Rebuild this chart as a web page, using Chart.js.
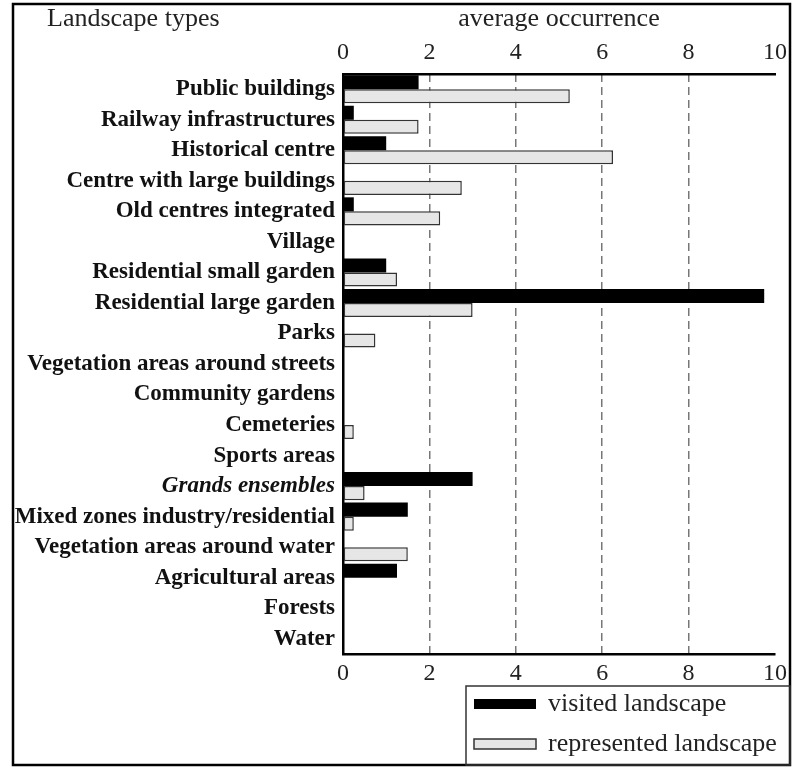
<!DOCTYPE html>
<html><head><meta charset="utf-8">
<script src="https://cdn.jsdelivr.net/npm/chart.js@4.4.1/dist/chart.umd.min.js"></script>
<style>html,body{margin:0;padding:0;background:#fff;}#wrap{width:808px;height:780px;}</style>
</head><body><div id="wrap"><canvas id="c" width="808" height="780" style="width:808px;height:780px"></canvas></div>
<script>
const categories = [
  'Public buildings','Railway infrastructures','Historical centre','Centre with large buildings',
  'Old centres integrated','Village','Residential small garden','Residential large garden','Parks',
  'Vegetation areas around streets','Community gardens','Cemeteries','Sports areas','Grands ensembles',
  'Mixed zones industry/residential','Vegetation areas around water','Agricultural areas','Forests','Water'
];
const italicCategories = ['Grands ensembles'];
const visited =     [1.75,0.25,1.0,0,0.25,0,1.0,9.75,0,0,0,0,0,3.0,1.5,0,1.25,0,0];
const represented = [5.25,1.75,6.25,2.75,2.25,0,1.25,3.0,0.75,0,0,0.25,0,0.5,0.25,1.5,0,0,0];
const seriesNames = ['visited landscape','represented landscape'];
const axisMin = 0, axisMax = 10, axisStep = 2;
const leftTitle = 'Landscape types';
const topTitle = 'average occurrence';

const SERIF = "'Liberation Serif','Times New Roman',serif";

const framePlugin = {
  id: 'frame',
  afterDraw(chart) {
    const ctx = chart.ctx;
    ctx.save();
    // outer frame
    ctx.strokeStyle = '#000';
    ctx.lineWidth = 2.5;
    ctx.strokeRect(13, 4, 777, 761);
    // left title
    ctx.fillStyle = '#222';
    ctx.font = '26px ' + SERIF;
    ctx.textAlign = 'left';
    ctx.textBaseline = 'middle';
    ctx.fillText(leftTitle, 47, 19);
    // legend
    const lx = 466, ly = 686, lw = 324, lh = 79;
    ctx.lineWidth = 1.5;
    ctx.strokeStyle = '#333';
    ctx.strokeRect(lx, ly, lw, lh);
    const ds = chart.data.datasets;
    const rows = [704, 744];
    ds.forEach((d, i) => {
      const y = rows[i];
      ctx.fillStyle = d.backgroundColor;
      ctx.fillRect(474, y - 5, 62, 10);
      if (d.borderWidth) {
        ctx.lineWidth = 1.5;
        ctx.strokeStyle = d.borderColor;
        ctx.strokeRect(474, y - 5, 62, 10);
      }
      ctx.fillStyle = '#222';
      ctx.font = '26px ' + SERIF;
      ctx.textAlign = 'left';
      ctx.textBaseline = 'middle';
      ctx.fillText(d.label, 548, y);
    });
    ctx.restore();
  }
};

new Chart(document.getElementById('c'), {
  type: 'bar',
  data: {
    labels: categories,
    datasets: [
      { label: seriesNames[0], data: visited, backgroundColor: '#000', borderWidth: 0,
        categoryPercentage: 0.92, barPercentage: 1.0, xAxisID: 'x' },
      { label: seriesNames[1], data: represented, backgroundColor: '#e6e6e6', borderColor: '#333',
        borderWidth: 1.5, borderSkipped: false, categoryPercentage: 0.92, barPercentage: 1.0, xAxisID: 'x' }
    ]
  },
  options: {
    indexAxis: 'y',
    responsive: false,
    animation: false,
    layout: { padding: { left: 0, right: 33, top: 0, bottom: 0 } },
    plugins: { legend: { display: false }, tooltip: { enabled: false } },
    scales: {
      x: {
        type: 'linear', position: 'bottom', min: axisMin, max: axisMax,
        ticks: { stepSize: axisStep, padding: 5, color: '#222', font: { family: SERIF, size: 24 } },
        grid: {
          drawTicks: false, tickLength: 0, lineWidth: 1.5,
          color: (c) => (c.tick && (c.tick.value === axisMin || c.tick.value === axisMax)) ? 'rgba(0,0,0,0)' : '#777'
        },
        border: { display: true, color: '#000', width: 2.5, dash: [8, 5] },
        afterFit: (s) => { s.height = 126; }
      },
      x2: {
        type: 'linear', position: 'top', min: axisMin, max: axisMax,
        ticks: { stepSize: axisStep, padding: 7, color: '#222', font: { family: SERIF, size: 24 } },
        grid: { display: false, drawTicks: false, tickLength: 0 },
        border: { display: true, color: '#000', width: 2.5 },
        title: { display: true, text: topTitle, color: '#222', font: { family: SERIF, size: 26, lineHeight: 1.2 }, padding: { top: 4, bottom: 0 } },
        afterFit: (s) => { s.height = 74; }
      },
      y: {
        position: 'left',
        grid: { display: false, drawTicks: false, tickLength: 0 },
        border: { display: true, color: '#000', width: 2.5 },
        ticks: {
          padding: 8, color: '#111', autoSkip: false,
          font: (c) => ({ family: SERIF, size: 23, weight: 'bold',
            style: italicCategories.includes(categories[c.index]) ? 'italic' : 'normal' })
        },
        afterFit: (s) => { s.width = 343; }
      }
    }
  },
  plugins: [framePlugin]
});
</script>
</body></html>
